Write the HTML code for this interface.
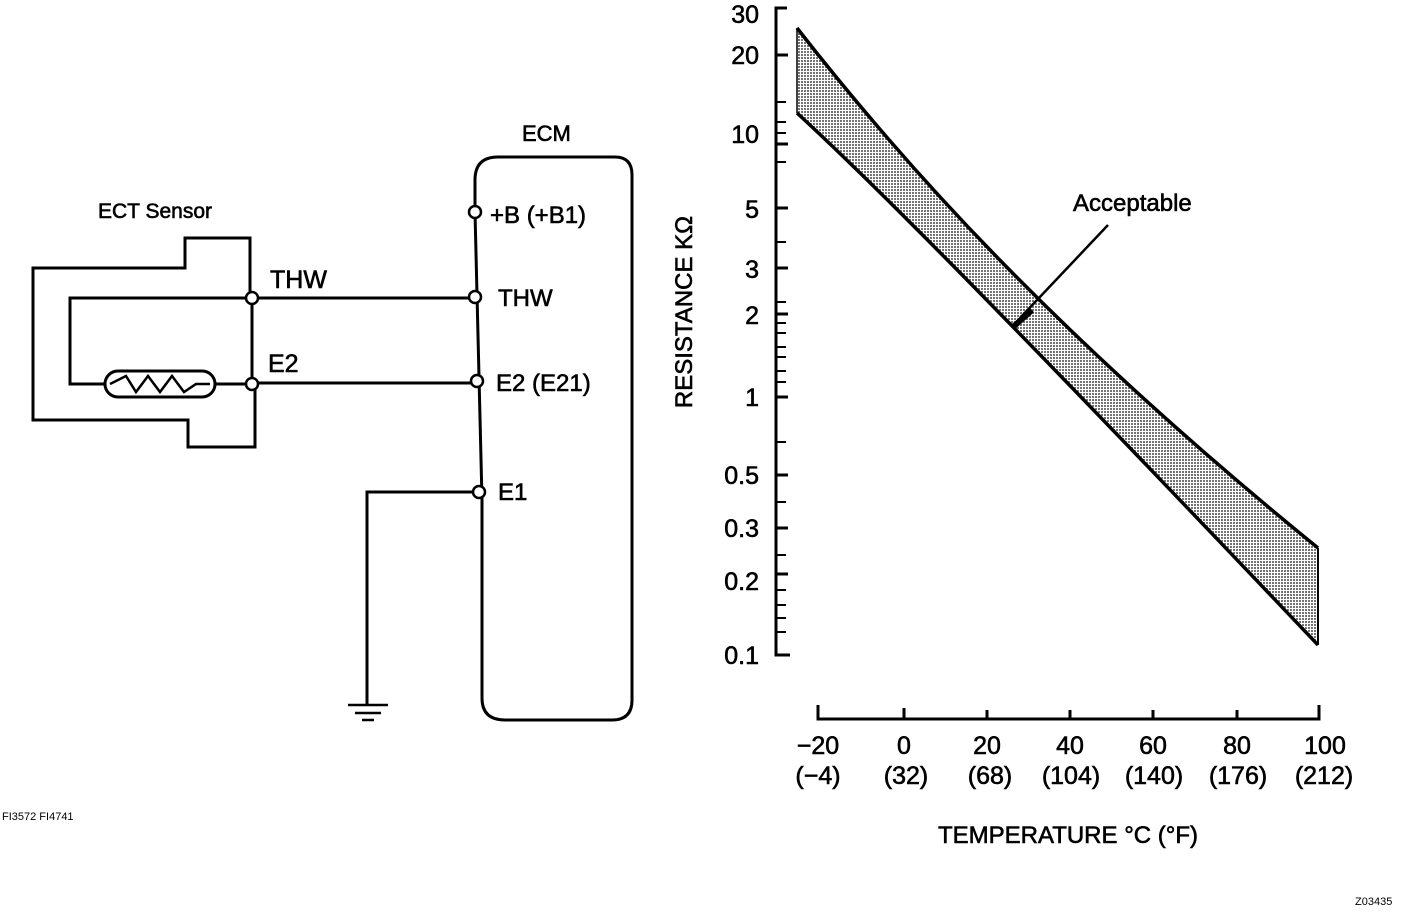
<!DOCTYPE html>
<html><head><meta charset="utf-8"><style>
html,body{margin:0;padding:0;background:#fff;}
svg text{font-family:"Liberation Sans",Arial,sans-serif;fill:#000;stroke:#000;stroke-width:0.6;}
</style></head><body>
<svg width="1408" height="910" viewBox="0 0 1408 910" xmlns="http://www.w3.org/2000/svg">
<defs>
<pattern id="dots" width="3" height="3" patternUnits="userSpaceOnUse">
<rect width="3" height="3" fill="#fff"/><rect width="2" height="2" fill="#000" opacity="0.55"/>
</pattern>
</defs>
<g fill="none" stroke="#000" stroke-width="3">
<path d="M250,298 V238 H185 V268 H33 V420 H188 V447 H255 V386"/>
<path d="M252,298 H475 M252,298 V386 M252,383 H475"/>
<path d="M252,298 H70 V384 H105"/>
<rect x="105" y="371" width="110" height="26" rx="13"/>
<path d="M215,384 H252"/>
<path d="M110,384 L126,376 L136,392 L148,376 L160,392 L172,376 L184,392 L196,384 H210" stroke-width="2.5"/>
<path d="M475,212 V180 Q475,157 498,157 H615 Q632,157 632,175 V700 Q632,720 612,720 H505 Q482,720 482,698 V500 L475,212"/>
<path d="M475,492 H367 V705"/>
<path d="M348,705 H388 M355,713 H381 M362,720 H374" stroke-width="2.5"/>
</g>
<g fill="#fff" stroke="#000" stroke-width="2.5">
<circle cx="252" cy="298" r="6"/><circle cx="252" cy="384" r="6"/>
<circle cx="475" cy="212" r="6"/><circle cx="475" cy="297" r="6"/>
<circle cx="477" cy="381" r="6"/><circle cx="479" cy="492" r="6"/>
</g>
<g font-size="22">
<text x="98" y="218" font-size="21">ECT Sensor</text>
<text x="270" y="288" font-size="25">THW</text>
<text x="268" y="372" font-size="25">E2</text>
<text x="522" y="141" font-size="22">ECM</text>
<text x="490" y="223" font-size="24">+B (+B1)</text>
<text x="498" y="306" font-size="24">THW</text>
<text x="496" y="391" font-size="24">E2 (E21)</text>
<text x="498" y="500" font-size="24">E1</text>
<text x="2" y="820" font-size="11" style="stroke:none">FI3572 FI4741</text>
<text x="1355" y="905" font-size="11" style="stroke:none">Z03435</text>
</g>
<path d="M797,28 C900,160 1050,330 1318,548 L1318,645 C1000,310 870,180 797,113 Z" fill="url(#dots)" stroke="none"/>
<g fill="none" stroke="#000" stroke-width="3.5">
<path d="M797,28 C900,160 1050,330 1318,548"/>
<path d="M797,113 C870,180 1000,310 1318,645"/>
<path d="M1318,548 V645" stroke-width="2"/>
<path d="M797,28 V113" stroke-width="1.5"/>
<path d="M1108,225 L1020,318" stroke-width="2.5"/>
<path d="M1012,328 L1032,310" stroke-width="6"/>
<path d="M787,8 H776 V655 H790" stroke-width="3"/>
<path d="M776,55 H788 M776,144 H788 M776,208 H788 M776,268 H788 M776,314 H788 M776,397 H788 M776,475 H788 M776,528 H788 M776,574 H788" stroke-width="3"/>
<path d="M776,102 H786 M776,122 H786 M776,133 H786 M776,162 H786 M776,242 H786 M776,302 H786 M776,323 H786 M776,333 H786 M776,347 H786 M776,357 H786 M776,371 H786 M776,382 H786 M776,442 H786 M776,502 H786 M776,555 H786 M776,590 H786 M776,605 H786 M776,618 H786 M776,632 H786" stroke-width="2"/>
<path d="M818,705 V719 H1319 V705 M904,708 V719 M987,710 V719 M1070,710 V719 M1153,710 V719 M1237,710 V719" stroke-width="3"/>
</g>
<g font-size="25" text-anchor="end">
<text x="759" y="23">30</text><text x="759" y="64">20</text>
<text x="759" y="143">10</text><text x="759" y="218">5</text>
<text x="759" y="278">3</text><text x="759" y="324">2</text>
<text x="759" y="406">1</text><text x="759" y="484">0.5</text>
<text x="759" y="537">0.3</text><text x="759" y="590">0.2</text>
<text x="759" y="664">0.1</text>
</g>
<g font-size="25" text-anchor="middle">
<text x="818" y="754">−20</text><text x="904" y="754">0</text>
<text x="987" y="754">20</text><text x="1070" y="754">40</text>
<text x="1153" y="754">60</text><text x="1237" y="754">80</text>
<text x="1325" y="754">100</text>
<text x="818" y="784">(−4)</text><text x="906" y="784">(32)</text>
<text x="990" y="784">(68)</text><text x="1071" y="784">(104)</text>
<text x="1154" y="784">(140)</text><text x="1238" y="784">(176)</text>
<text x="1324" y="784">(212)</text>
<text x="1068" y="843" font-size="24">TEMPERATURE °C (°F)</text>
</g>
<text x="1073" y="211" font-size="24">Acceptable</text>
<text transform="translate(692,312) rotate(-90)" font-size="24" text-anchor="middle">RESISTANCE KΩ</text>
</svg>
</body></html>
